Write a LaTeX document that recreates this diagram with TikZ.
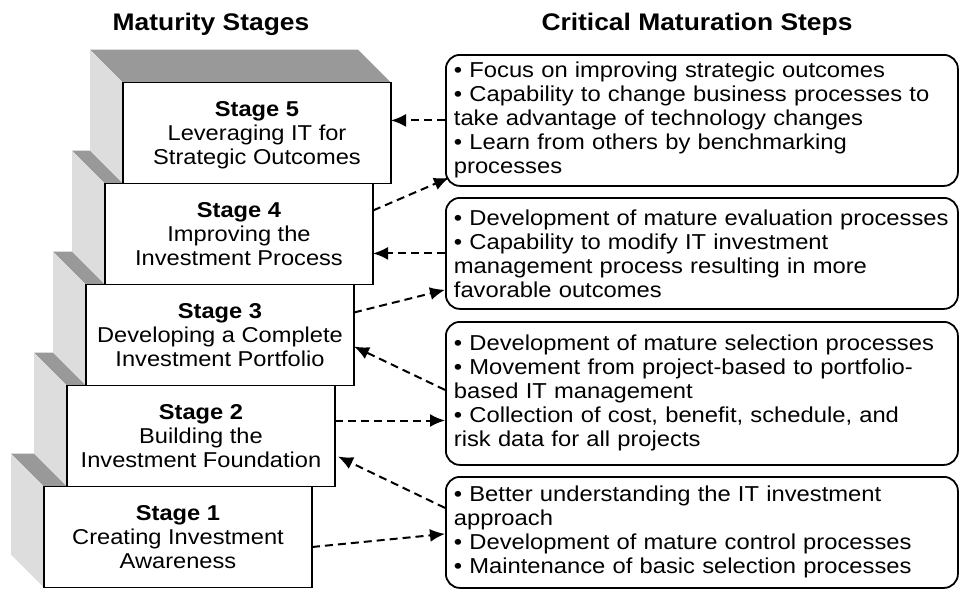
\documentclass[tikz,border=0pt]{standalone}
\usepackage{fontspec}
\setmainfont[FakeStretch=1.1]{Liberation Sans}
\usepackage{tikz}
\usetikzlibrary{calc}
\usetikzlibrary{arrows.meta}
\usetikzlibrary{backgrounds}
\definecolor{topgray}{RGB}{153,153,153}
\definecolor{sidegray}{RGB}{221,221,221}

\begin{document}
\begin{tikzpicture}[x=1pt, y=-1pt,
    stage/.style={draw, rectangle, fill=white, line width=1.9pt, outer sep=0pt, inner sep=0pt,
        minimum width=268pt, minimum height=101pt, align=center, text depth=0pt,
        font=\fontsize{21.5}{24.3}\selectfont},
    stepbox/.style={draw, rectangle, rounded corners=14pt, line width=1.8pt, anchor=north west,
        text width=496pt, inner xsep=8pt, inner ysep=0pt, align=left,
        font=\fontsize{21.6}{24}\selectfont},
    heading/.style={font=\bfseries\fontsize{24}{28}\selectfont},
    link/.style={dash pattern=on 8pt off 5pt, line width=2pt, -{Latex[length=15pt,width=13pt]}}
]
        \useasboundingbox (0,0) rectangle (964,590);

        % nodes %
        \node[heading] (h1) at (211,24) {Maturity Stages};
        \node[heading] (h2) at (697,24) {Critical Maturation Steps};

        \node[stage] (s1) at (178,537) {\textbf{Stage 1}\\Creating Investment\\Awareness};
        \node[stage, anchor=south west] (s2) at ($(s1.north west)+(23,0)$) {\textbf{Stage 2}\\Building the\\Investment Foundation};
        \node[stage, anchor=south west] (s3) at ($(s2.north west)+(19,0)$) {\textbf{Stage 3}\\Developing a Complete\\Investment Portfolio};
        \node[stage, anchor=south west] (s4) at ($(s3.north west)+(19,0)$) {\textbf{Stage 4}\\Improving the\\Investment Process};
        \node[stage, anchor=south west] (s5) at ($(s4.north west)+(18,0)$) {\textbf{Stage 5}\\Leveraging IT for\\Strategic Outcomes};

        \node[stepbox, minimum height=131pt] (a) at (445,54) {%
            \textbullet{} Focus on improving strategic outcomes\\
            \textbullet{} Capability to change business processes to\\
            take advantage of technology changes\\
            \textbullet{} Learn from others by benchmarking\\
            processes};
        \node[stepbox, minimum height=111pt] (b) at (445,197) {%
            \textbullet{} Development of mature evaluation processes\\
            \textbullet{} Capability to modify IT investment\\
            management process resulting in more\\
            favorable outcomes};
        \node[stepbox, minimum height=143pt] (c) at (445,321) {%
            \textbullet{} Development of mature selection processes\\
            \textbullet{} Movement from project-based to portfolio-\\
            based IT management\\
            \textbullet{} Collection of cost, benefit, schedule, and\\
            risk data for all projects};
        \node[stepbox, minimum height=111pt] (d) at (445,476) {%
            \textbullet{} Better understanding the IT investment\\
            approach\\
            \textbullet{} Development of mature control processes\\
            \textbullet{} Maintenance of basic selection processes};

        % block faces %
        \begin{pgfonlayer}{background}
        \fill[topgray] (s1.north west) -- (s1.north east) -- ++(-33,-33) -- ($(s1.north west)+(-33,-33)$) -- cycle;
        \fill[topgray] (s2.north west) -- (s2.north east) -- ++(-33,-33) -- ($(s2.north west)+(-33,-33)$) -- cycle;
        \fill[topgray] (s3.north west) -- (s3.north east) -- ++(-33,-33) -- ($(s3.north west)+(-33,-33)$) -- cycle;
        \fill[topgray] (s4.north west) -- (s4.north east) -- ++(-33,-33) -- ($(s4.north west)+(-33,-33)$) -- cycle;
        \fill[topgray] (s5.north west) -- (s5.north east) -- ++(-33,-33) -- ($(s5.north west)+(-33,-33)$) -- cycle;
        \fill[sidegray] (s1.north west) -- (s1.south west) -- ++(-33,-33) -- ($(s1.north west)+(-33,-33)$) -- cycle;
        \fill[sidegray] (s2.north west) -- (s2.south west) -- ++(-33,-33) -- ($(s2.north west)+(-33,-33)$) -- cycle;
        \fill[sidegray] (s3.north west) -- (s3.south west) -- ++(-33,-33) -- ($(s3.north west)+(-33,-33)$) -- cycle;
        \fill[sidegray] (s4.north west) -- (s4.south west) -- ++(-33,-33) -- ($(s4.north west)+(-33,-33)$) -- cycle;
        \fill[sidegray] (s5.north west) -- (s5.south west) -- ++(-33,-33) -- ($(s5.north west)+(-33,-33)$) -- cycle;
        \end{pgfonlayer}

        % edges %
        \coordinate (m2) at ($(s2.east)+(0,-15.5)$);
        \draw[link] (a.west) -- (a.west -| s5.east);
        \draw[link] ($(s4.east)+(0,-23.5)$) -- ($(a.south west)+(4,-9)$);
        \draw[link] (b.west) -- (b.west -| s4.east);
        \draw[link] ($(s3.east)+(0,-22.5)$) -- ($(b.south west)+(0,-20)$);
        \draw[link] ($(c.west)+(0,-3.5)$) -- ($(s3.east)+(0,11.5)$);
        \draw[link] (m2) -- (m2 -| c.west);
        \draw[link] ($(d.west)+(0,-24.5)$) -- ($(s2.east)+(3,20.5)$);
        \draw[link] ($(s1.east)+(0,10)$) -- ($(d.west)+(0,1.5)$);
\end{tikzpicture}
\end{document}
